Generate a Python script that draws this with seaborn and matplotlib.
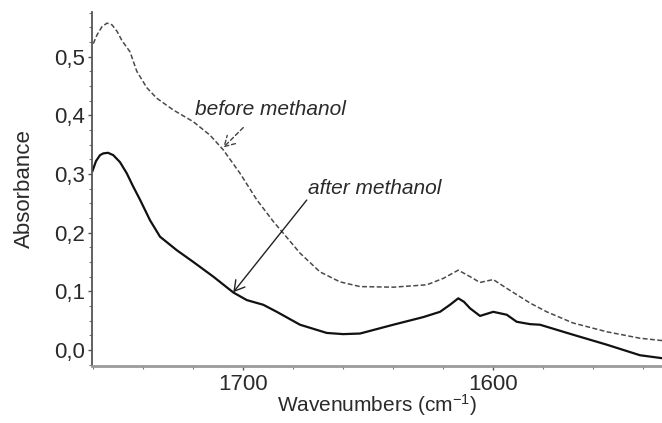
import numpy as np
import pandas as pd
import seaborn as sns
import matplotlib.pyplot as plt
from matplotlib.ticker import MultipleLocator, FuncFormatter

# FTIR absorbance spectra in the amide I region (wavenumbers in cm-1)
wn_before = [1760.0, 1758.5, 1756.5, 1754.5, 1752.5, 1750.5, 1748.5, 1745.3, 1742.6,
             1738.6, 1734.6, 1728.0, 1720.0, 1713.3, 1708.0, 1701.3, 1694.6, 1688.0,
             1684.0, 1677.3, 1669.3, 1661.3, 1653.3, 1640.0, 1626.6, 1620.0, 1614.0,
             1609.3, 1605.3, 1600.0, 1594.6, 1585.3, 1578.6, 1568.1, 1554.6, 1541.3,
             1532.5]
abs_before = [0.522, 0.537, 0.551, 0.557, 0.554, 0.543, 0.527, 0.508, 0.475,
              0.447, 0.429, 0.409, 0.389, 0.366, 0.341, 0.301, 0.256, 0.219,
              0.199, 0.165, 0.133, 0.116, 0.108, 0.107, 0.111, 0.122, 0.136,
              0.125, 0.115, 0.120, 0.105, 0.080, 0.065, 0.046, 0.031, 0.020,
              0.016]

wn_after = [1760.4, 1758.9, 1757.3, 1756.0, 1754.1, 1752.0, 1749.3, 1746.6, 1744.1,
            1741.3, 1737.3, 1733.3, 1726.6, 1720.0, 1712.0, 1704.0, 1698.6, 1692.0,
            1686.6, 1677.3, 1666.6, 1660.0, 1653.3, 1640.0, 1628.0, 1621.3, 1617.3,
            1614.0, 1611.7, 1609.3, 1605.3, 1600.0, 1594.6, 1590.6, 1585.3, 1581.3,
            1568.1, 1554.6, 1541.3, 1532.5]
abs_after = [0.304, 0.322, 0.332, 0.335, 0.336, 0.332, 0.320, 0.301, 0.279,
             0.256, 0.221, 0.193, 0.170, 0.150, 0.125, 0.098, 0.085, 0.077,
             0.065, 0.043, 0.029, 0.027, 0.028, 0.043, 0.056, 0.065, 0.077,
             0.088, 0.082, 0.071, 0.058, 0.065, 0.060, 0.048, 0.044, 0.043,
             0.026, 0.009, -0.009, -0.014]

label_before = "before methanol"
label_after = "after methanol"

sns.set_theme(style="white")
plt.rcParams["font.family"] = ["Liberation Sans", "DejaVu Sans"]
plt.rcParams["mathtext.fontset"] = "custom"
plt.rcParams["mathtext.rm"] = "Liberation Sans"

fig = plt.figure(figsize=(6.62, 4.23), dpi=100)
ax = fig.add_axes([0.1394, 0.1348, 0.8606, 0.8369])

df_b = pd.DataFrame({"wn": wn_before, "A": abs_before})
df_a = pd.DataFrame({"wn": wn_after, "A": abs_after})

sns.lineplot(data=df_b, x="wn", y="A", ax=ax, color="#4a4a4a", lw=1.1,
             linestyle=(0, (3.2, 1.6)), sort=False)
sns.lineplot(data=df_a, x="wn", y="A", ax=ax, color="#111111", lw=1.6, sort=False)

ax.set_xlim(1760.4, 1532.5)
ax.set_ylim(-0.0273, 0.576)

ax.xaxis.set_major_locator(MultipleLocator(100))
ax.xaxis.set_minor_locator(MultipleLocator(20))
ax.yaxis.set_major_locator(MultipleLocator(0.1))
ax.yaxis.set_minor_locator(MultipleLocator(0.025))
ax.yaxis.set_major_formatter(FuncFormatter(lambda v, p: f"{v:.1f}".replace(".", ",")))
ax.xaxis.set_major_formatter(FuncFormatter(lambda v, p: f"{v:.0f}"))

for side in ("top", "right"):
    ax.spines[side].set_visible(False)
ax.spines["left"].set_color("#555555")
ax.spines["bottom"].set_color("#9a9a9a")
ax.spines["left"].set_linewidth(1.3)
ax.spines["bottom"].set_linewidth(2.0)

ax.tick_params(axis="both", which="major", direction="out", length=3, width=1,
               color="#555555", labelsize=16, labelcolor="#2a2a2a", pad=2.5,
               bottom=True, left=True)
ax.tick_params(axis="both", which="minor", direction="out", length=2, width=0.8,
               color="#777777", bottom=True, left=True)

ax.set_xlabel("Wavenumbers (cm$\\mathregular{^{-1}}$)", fontsize=15, color="#2a2a2a",
              labelpad=-2)
ax.set_ylabel("Absorbance", fontsize=16, color="#2a2a2a")
ax.yaxis.set_label_coords(-0.100, 0.5)

# labels and pointer arrows
ax.text(1719.3, 0.409, label_before, fontsize=15, style="italic",
        color="#2a2a2a", ha="left", va="center")
ax.text(1674.1, 0.276, label_after, fontsize=15, style="italic",
        color="#2a2a2a", ha="left", va="center")
ax.annotate("", xy=(1708.0, 0.345), xytext=(1700.0, 0.379),
            arrowprops=dict(arrowstyle="->,head_length=0.6,head_width=0.35",
                            color="#444444", lw=1.0, linestyle=(0, (3, 2)),
                            shrinkA=0, shrinkB=0))
ax.annotate("", xy=(1704.0, 0.0983), xytext=(1674.6, 0.2555),
            arrowprops=dict(arrowstyle="->,head_length=0.6,head_width=0.35",
                            color="#222222", lw=1.0, shrinkA=0, shrinkB=0))

fig.savefig("out.png", dpi=100)
